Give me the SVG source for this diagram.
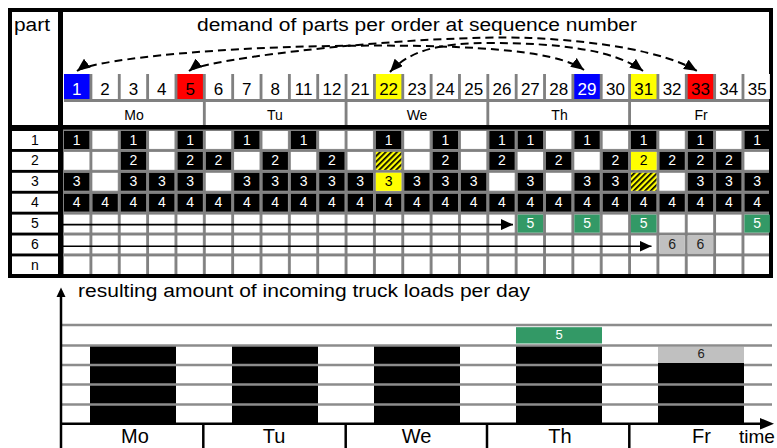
<svg xmlns="http://www.w3.org/2000/svg" width="777" height="448" viewBox="0 0 777 448">
<defs>
<style>
text{font-family:"Liberation Sans",Arial,sans-serif;fill:#000;}
.seq{font-size:17px;text-anchor:middle;}
.day{font-size:14px;text-anchor:middle;}
.c{font-size:14px;text-anchor:middle;fill:#fff;}
.k{font-size:14px;text-anchor:middle;fill:#000;}
.bd{font-size:20px;text-anchor:middle;}
.b{fill:#000;}
.w{fill:#fff;}
.y{fill:#ffff00;}
.g{fill:#339966;}
.s{fill:#c0c0c0;}
.gr{fill:#808080;}
.dash{fill:none;stroke:#000;stroke-width:2;stroke-dasharray:8 5;marker-start:url(#ah);marker-end:url(#ah);}
.gl{stroke:#8c8c8c;stroke-width:2.7;}
.ax{stroke:#000;stroke-width:2.5;fill:none;}
</style>
<pattern id="cells" patternUnits="userSpaceOnUse" x="64" y="131" width="28.35" height="20.9">
<rect width="28.35" height="20.9" fill="#808080"/>
<rect width="25.5" height="18" fill="#fff"/>
</pattern>
<pattern id="hatch" patternUnits="userSpaceOnUse" width="4" height="4" patternTransform="rotate(45)">
<rect width="4" height="4" fill="#ffff00"/>
<rect width="1.7" height="4" fill="#000"/>
</pattern>
<marker id="ah" markerUnits="userSpaceOnUse" markerWidth="13" markerHeight="11" viewBox="0 0 13 11" refX="13" refY="5.5" orient="auto-start-reverse">
<path d="M0,0 L13,5.5 L0,11 z" fill="#000"/>
</marker>
<marker id="as" markerUnits="userSpaceOnUse" markerWidth="12" markerHeight="11" viewBox="0 0 12 11" refX="12" refY="5.5" orient="auto">
<path d="M0,0 L12,5.5 L0,11 z" fill="#000"/>
</marker>
</defs>

<!-- frame -->
<g id="frame">
<rect x="8" y="8" width="765" height="270" fill="#000"/>
<rect x="12" y="12" width="46" height="113" fill="#fff"/>
<rect x="63" y="12" width="706" height="113" fill="#fff"/>
<text x="14" y="31" font-size="18" textLength="36" lengthAdjust="spacingAndGlyphs">part</text>
<text x="197" y="31" font-size="18" textLength="440" lengthAdjust="spacingAndGlyphs">demand of parts per order at sequence number</text>
</g>

<!-- sequence header -->
<g id="sequence">
<rect x="64" y="74" width="705" height="28" class="gr"/>
<rect x="64" y="74" width="25.5" height="25" fill="#0000ff"/><text class="seq" x="76.75" y="95" style="fill:#fff">1</text>
<rect x="92.35" y="74" width="25.5" height="25" class="w"/><text class="seq" x="105.1" y="95">2</text>
<rect x="120.7" y="74" width="25.5" height="25" class="w"/><text class="seq" x="133.45" y="95">3</text>
<rect x="149.05" y="74" width="25.5" height="25" class="w"/><text class="seq" x="161.8" y="95">4</text>
<rect x="177.4" y="74" width="25.5" height="25" fill="#ff0000"/><text class="seq" x="190.15" y="95">5</text>
<rect x="205.75" y="74" width="25.5" height="25" class="w"/><text class="seq" x="218.5" y="95">6</text>
<rect x="234.1" y="74" width="25.5" height="25" class="w"/><text class="seq" x="246.85" y="95">7</text>
<rect x="262.45" y="74" width="25.5" height="25" class="w"/><text class="seq" x="275.2" y="95">8</text>
<rect x="290.8" y="74" width="25.5" height="25" class="w"/><text class="seq" x="303.55" y="95">11</text>
<rect x="319.15" y="74" width="25.5" height="25" class="w"/><text class="seq" x="331.9" y="95">12</text>
<rect x="347.5" y="74" width="25.5" height="25" class="w"/><text class="seq" x="360.25" y="95">21</text>
<rect x="375.85" y="74" width="25.5" height="25" class="y"/><text class="seq" x="388.6" y="95">22</text>
<rect x="404.2" y="74" width="25.5" height="25" class="w"/><text class="seq" x="416.95" y="95">23</text>
<rect x="432.55" y="74" width="25.5" height="25" class="w"/><text class="seq" x="445.3" y="95">24</text>
<rect x="460.9" y="74" width="25.5" height="25" class="w"/><text class="seq" x="473.65" y="95">25</text>
<rect x="489.25" y="74" width="25.5" height="25" class="w"/><text class="seq" x="502" y="95">26</text>
<rect x="517.6" y="74" width="25.5" height="25" class="w"/><text class="seq" x="530.35" y="95">27</text>
<rect x="545.95" y="74" width="25.5" height="25" class="w"/><text class="seq" x="558.7" y="95">28</text>
<rect x="574.3" y="74" width="25.5" height="25" fill="#0000ff"/><text class="seq" x="587.05" y="95" style="fill:#fff">29</text>
<rect x="602.65" y="74" width="25.5" height="25" class="w"/><text class="seq" x="615.4" y="95">30</text>
<rect x="631" y="74" width="25.5" height="25" class="y"/><text class="seq" x="643.75" y="95">31</text>
<rect x="659.35" y="74" width="25.5" height="25" class="w"/><text class="seq" x="672.1" y="95">32</text>
<rect x="687.7" y="74" width="25.5" height="25" fill="#ff0000"/><text class="seq" x="700.45" y="95">33</text>
<rect x="716.05" y="74" width="25.5" height="25" class="w"/><text class="seq" x="728.8" y="95">34</text>
<rect x="744.4" y="74" width="25.5" height="25" class="w"/><text class="seq" x="757.15" y="95">35</text>
<rect x="64" y="102" width="705" height="23" class="w"/>
<rect x="202.9" y="102" width="2.85" height="23" class="gr"/>
<rect x="344.65" y="102" width="2.85" height="23" class="gr"/>
<rect x="486.4" y="102" width="2.85" height="23" class="gr"/>
<rect x="628.15" y="102" width="2.85" height="23" class="gr"/>
<text class="day" x="134" y="120">Mo</text>
<text class="day" x="275" y="120">Tu</text>
<text class="day" x="417" y="120">We</text>
<text class="day" x="559.5" y="120">Th</text>
<text class="day" x="701" y="120">Fr</text>
</g>

<!-- part labels -->
<g id="parts">
<rect x="12" y="131" width="46" height="18" class="w"/><text class="k" x="35" y="144.5">1</text>
<rect x="12" y="151.9" width="46" height="18" class="w"/><text class="k" x="35" y="165.4">2</text>
<rect x="12" y="172.8" width="46" height="18" class="w"/><text class="k" x="35" y="186.3">3</text>
<rect x="12" y="193.7" width="46" height="18" class="w"/><text class="k" x="35" y="207.2">4</text>
<rect x="12" y="214.6" width="46" height="18" class="w"/><text class="k" x="35" y="228.1">5</text>
<rect x="12" y="235.5" width="46" height="18" class="w"/><text class="k" x="35" y="249">6</text>
<rect x="12" y="256.4" width="46" height="17.6" class="w"/><text class="k" x="35" y="269.5">n</text>
</g>

<!-- grid -->
<rect x="63" y="129.5" width="706" height="144.5" fill="url(#cells)"/>

<g id="row1" transform="translate(0,131)">
<rect x="64" width="25.5" height="18" class="b"/><text class="c" x="76.75" y="13.5">1</text>
<rect x="120.7" width="25.5" height="18" class="b"/><text class="c" x="133.45" y="13.5">1</text>
<rect x="177.4" width="25.5" height="18" class="b"/><text class="c" x="190.15" y="13.5">1</text>
<rect x="234.1" width="25.5" height="18" class="b"/><text class="c" x="246.85" y="13.5">1</text>
<rect x="290.8" width="25.5" height="18" class="b"/><text class="c" x="303.55" y="13.5">1</text>
<rect x="375.85" width="25.5" height="18" class="b"/><text class="c" x="388.6" y="13.5">1</text>
<rect x="432.55" width="25.5" height="18" class="b"/><text class="c" x="445.3" y="13.5">1</text>
<rect x="489.25" width="25.5" height="18" class="b"/><text class="c" x="502" y="13.5">1</text>
<rect x="517.6" width="25.5" height="18" class="b"/><text class="c" x="530.35" y="13.5">1</text>
<rect x="574.3" width="25.5" height="18" class="b"/><text class="c" x="587.05" y="13.5">1</text>
<rect x="631" width="25.5" height="18" class="b"/><text class="c" x="643.75" y="13.5">1</text>
<rect x="687.7" width="25.5" height="18" class="b"/><text class="c" x="700.45" y="13.5">1</text>
<rect x="744.4" width="25.5" height="18" class="b"/><text class="c" x="757.15" y="13.5">1</text>
</g>

<g id="row2" transform="translate(0,151.9)">
<rect x="120.7" width="25.5" height="18" class="b"/><text class="c" x="133.45" y="13.5">2</text>
<rect x="177.4" width="25.5" height="18" class="b"/><text class="c" x="190.15" y="13.5">2</text>
<rect x="205.75" width="25.5" height="18" class="b"/><text class="c" x="218.5" y="13.5">2</text>
<rect x="262.45" width="25.5" height="18" class="b"/><text class="c" x="275.2" y="13.5">2</text>
<rect x="319.15" width="25.5" height="18" class="b"/><text class="c" x="331.9" y="13.5">2</text>
<rect x="375.85" width="25.5" height="18" fill="url(#hatch)"/>
<rect x="432.55" width="25.5" height="18" class="b"/><text class="c" x="445.3" y="13.5">2</text>
<rect x="489.25" width="25.5" height="18" class="b"/><text class="c" x="502" y="13.5">2</text>
<rect x="545.95" width="25.5" height="18" class="b"/><text class="c" x="558.7" y="13.5">2</text>
<rect x="602.65" width="25.5" height="18" class="b"/><text class="c" x="615.4" y="13.5">2</text>
<rect x="631" width="25.5" height="18" class="y"/><text class="k" x="643.75" y="13.5">2</text>
<rect x="659.35" width="25.5" height="18" class="b"/><text class="c" x="672.1" y="13.5">2</text>
<rect x="687.7" width="25.5" height="18" class="b"/><text class="c" x="700.45" y="13.5">2</text>
<rect x="716.05" width="25.5" height="18" class="b"/><text class="c" x="728.8" y="13.5">2</text>
</g>

<g id="row3" transform="translate(0,172.8)">
<rect x="64" width="25.5" height="18" class="b"/><text class="c" x="76.75" y="13.5">3</text>
<rect x="120.7" width="25.5" height="18" class="b"/><text class="c" x="133.45" y="13.5">3</text>
<rect x="149.05" width="25.5" height="18" class="b"/><text class="c" x="161.8" y="13.5">3</text>
<rect x="177.4" width="25.5" height="18" class="b"/><text class="c" x="190.15" y="13.5">3</text>
<rect x="234.1" width="25.5" height="18" class="b"/><text class="c" x="246.85" y="13.5">3</text>
<rect x="262.45" width="25.5" height="18" class="b"/><text class="c" x="275.2" y="13.5">3</text>
<rect x="290.8" width="25.5" height="18" class="b"/><text class="c" x="303.55" y="13.5">3</text>
<rect x="319.15" width="25.5" height="18" class="b"/><text class="c" x="331.9" y="13.5">3</text>
<rect x="347.5" width="25.5" height="18" class="b"/><text class="c" x="360.25" y="13.5">3</text>
<rect x="375.85" width="25.5" height="18" class="y"/><text class="k" x="388.6" y="13.5">3</text>
<rect x="404.2" width="25.5" height="18" class="b"/><text class="c" x="416.95" y="13.5">3</text>
<rect x="432.55" width="25.5" height="18" class="b"/><text class="c" x="445.3" y="13.5">3</text>
<rect x="460.9" width="25.5" height="18" class="b"/><text class="c" x="473.65" y="13.5">3</text>
<rect x="517.6" width="25.5" height="18" class="b"/><text class="c" x="530.35" y="13.5">3</text>
<rect x="574.3" width="25.5" height="18" class="b"/><text class="c" x="587.05" y="13.5">3</text>
<rect x="602.65" width="25.5" height="18" class="b"/><text class="c" x="615.4" y="13.5">3</text>
<rect x="631" width="25.5" height="18" fill="url(#hatch)"/>
<rect x="687.7" width="25.5" height="18" class="b"/><text class="c" x="700.45" y="13.5">3</text>
<rect x="716.05" width="25.5" height="18" class="b"/><text class="c" x="728.8" y="13.5">3</text>
<rect x="744.4" width="25.5" height="18" class="b"/><text class="c" x="757.15" y="13.5">3</text>
</g>

<g id="row4" transform="translate(0,193.7)">
<rect x="64" width="25.5" height="18" class="b"/><text class="c" x="76.75" y="13.5">4</text>
<rect x="92.35" width="25.5" height="18" class="b"/><text class="c" x="105.1" y="13.5">4</text>
<rect x="120.7" width="25.5" height="18" class="b"/><text class="c" x="133.45" y="13.5">4</text>
<rect x="149.05" width="25.5" height="18" class="b"/><text class="c" x="161.8" y="13.5">4</text>
<rect x="177.4" width="25.5" height="18" class="b"/><text class="c" x="190.15" y="13.5">4</text>
<rect x="205.75" width="25.5" height="18" class="b"/><text class="c" x="218.5" y="13.5">4</text>
<rect x="234.1" width="25.5" height="18" class="b"/><text class="c" x="246.85" y="13.5">4</text>
<rect x="262.45" width="25.5" height="18" class="b"/><text class="c" x="275.2" y="13.5">4</text>
<rect x="290.8" width="25.5" height="18" class="b"/><text class="c" x="303.55" y="13.5">4</text>
<rect x="319.15" width="25.5" height="18" class="b"/><text class="c" x="331.9" y="13.5">4</text>
<rect x="347.5" width="25.5" height="18" class="b"/><text class="c" x="360.25" y="13.5">4</text>
<rect x="375.85" width="25.5" height="18" class="b"/><text class="c" x="388.6" y="13.5">4</text>
<rect x="404.2" width="25.5" height="18" class="b"/><text class="c" x="416.95" y="13.5">4</text>
<rect x="432.55" width="25.5" height="18" class="b"/><text class="c" x="445.3" y="13.5">4</text>
<rect x="460.9" width="25.5" height="18" class="b"/><text class="c" x="473.65" y="13.5">4</text>
<rect x="489.25" width="25.5" height="18" class="b"/><text class="c" x="502" y="13.5">4</text>
<rect x="517.6" width="25.5" height="18" class="b"/><text class="c" x="530.35" y="13.5">4</text>
<rect x="545.95" width="25.5" height="18" class="b"/><text class="c" x="558.7" y="13.5">4</text>
<rect x="574.3" width="25.5" height="18" class="b"/><text class="c" x="587.05" y="13.5">4</text>
<rect x="602.65" width="25.5" height="18" class="b"/><text class="c" x="615.4" y="13.5">4</text>
<rect x="631" width="25.5" height="18" class="b"/><text class="c" x="643.75" y="13.5">4</text>
<rect x="659.35" width="25.5" height="18" class="b"/><text class="c" x="672.1" y="13.5">4</text>
<rect x="687.7" width="25.5" height="18" class="b"/><text class="c" x="700.45" y="13.5">4</text>
<rect x="716.05" width="25.5" height="18" class="b"/><text class="c" x="728.8" y="13.5">4</text>
<rect x="744.4" width="25.5" height="18" class="b"/><text class="c" x="757.15" y="13.5">4</text>
</g>

<g id="row5" transform="translate(0,214.6)">
<rect x="517.6" width="25.5" height="18" class="g"/><text class="c" x="530.35" y="13.5">5</text>
<rect x="574.3" width="25.5" height="18" class="g"/><text class="c" x="587.05" y="13.5">5</text>
<rect x="631" width="25.5" height="18" class="g"/><text class="c" x="643.75" y="13.5">5</text>
<rect x="744.4" width="25.5" height="18" class="g"/><text class="c" x="757.15" y="13.5">5</text>
</g>

<g id="row6" transform="translate(0,235.5)">
<rect x="659.35" width="25.5" height="18" class="s"/><text class="k" x="672.1" y="13.5" style="fill:#222">6</text>
<rect x="687.7" width="25.5" height="18" class="s"/><text class="k" x="700.45" y="13.5" style="fill:#222">6</text>
</g>

<!-- connectors -->
<g id="connectors">
<path class="dash" d="M 77 71 C 90 61, 200 48, 330 46 C 460 44, 555 49, 584 70"/>
<path class="dash" d="M 189 71 C 205 58, 420 34, 530 38 C 600 41, 665 52, 697 71"/>
<path class="dash" d="M 390 72 C 410 50, 440 43, 490 43 C 560 43, 615 50, 643 71"/>
<line x1="63" y1="224.6" x2="513" y2="224.6" stroke="#000" stroke-width="1.6" marker-end="url(#as)"/>
<line x1="63" y1="246.2" x2="651.5" y2="246.2" stroke="#000" stroke-width="1.6" marker-end="url(#as)"/>
</g>

<!-- bottom chart -->
<g id="chart">
<text x="78" y="297" font-size="18" textLength="452" lengthAdjust="spacingAndGlyphs">resulting amount of incoming truck loads per day</text>
<rect x="90" y="345.5" width="86" height="78" class="b"/>
<rect x="232" y="345.5" width="86" height="78" class="b"/>
<rect x="374" y="345.5" width="86" height="78" class="b"/>
<rect x="516" y="345.5" width="86" height="78" class="b"/>
<rect x="516" y="327.2" width="86" height="16.3" class="g"/>
<rect x="658" y="363" width="86" height="60" class="b"/>
<rect x="658" y="346.6" width="86" height="16.4" class="s"/>
<line class="gl" x1="62" y1="325" x2="772" y2="325"/>
<line class="gl" x1="62" y1="345.5" x2="772" y2="345.5"/>
<line class="gl" x1="62" y1="365" x2="772" y2="365"/>
<line class="gl" x1="62" y1="384.5" x2="772" y2="384.5"/>
<line class="gl" x1="62" y1="404.5" x2="772" y2="404.5"/>
<rect x="658" y="363" width="86" height="4" class="b"/>
<text x="559" y="338.5" font-size="13" text-anchor="middle" style="fill:#fff">5</text>
<text x="701" y="357.5" font-size="13" text-anchor="middle" style="fill:#222">6</text>
<line class="ax" x1="61" y1="296" x2="61" y2="448" stroke-width="2.3"/>
<path d="M61,287.5 L56.5,297 L65.5,297 z" fill="#000"/>
<line class="ax" x1="60" y1="423.8" x2="762" y2="423.8"/>
<path d="M774,423.8 L760,418 L760,429.6 z" fill="#000"/>
<line class="ax" x1="203.3" y1="424" x2="203.3" y2="448"/>
<line class="ax" x1="345.7" y1="424" x2="345.7" y2="448"/>
<line class="ax" x1="487" y1="424" x2="487" y2="448"/>
<line class="ax" x1="629.3" y1="424" x2="629.3" y2="448"/>
<text class="bd" x="135" y="443">Mo</text>
<text class="bd" x="274" y="443">Tu</text>
<text class="bd" x="416.5" y="443">We</text>
<text class="bd" x="560" y="443">Th</text>
<text class="bd" x="701.5" y="443">Fr</text>
<text x="739" y="443" font-size="19">time</text>
</g>
</svg>
